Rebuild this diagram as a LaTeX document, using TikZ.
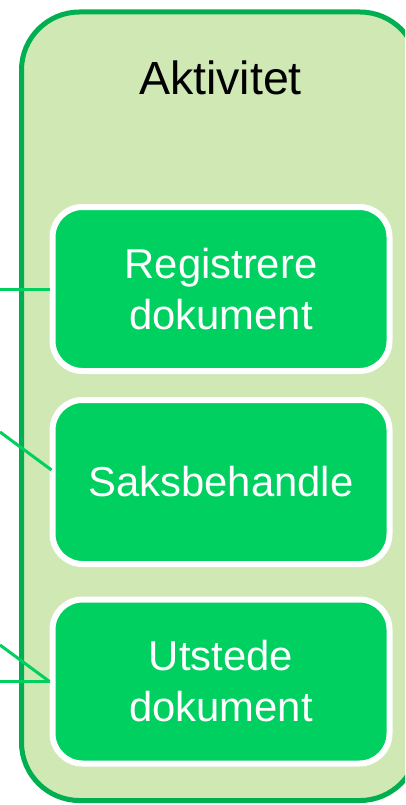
\documentclass[tikz,border=0pt]{standalone}
\usepackage{fontspec}
\setmainfont{Liberation Sans}
\definecolor{contfill}{RGB}{208,232,180}
\definecolor{contline}{RGB}{0,176,80}
\definecolor{boxfill}{RGB}{0,208,96}
\tikzset{
  container/.style={draw=contline, line width=5pt, fill=contfill, rounded corners=58pt,
    minimum width=396.5pt, minimum height=788.5pt, inner sep=0pt},
  actbox/.style={draw=white, line width=6pt, fill=boxfill, rounded corners=30pt,
    minimum width=337pt, minimum height=164pt, inner sep=0pt, align=center,
    text=white, font=\fontsize{41.8}{51}\selectfont},
  title/.style={font=\fontsize{46.5}{55}\selectfont, text=black, inner sep=0pt},
  link/.style={draw=boxfill, line width=3pt}
}
\begin{document}
\begin{tikzpicture}[x=1pt,y=-1pt]
\clip (0,0) rectangle (405,805);
\useasboundingbox (0,0) rectangle (405,805);
\node[container] (cont) at (219.75,406.25) {};
\node[title, anchor=base] (ttl) at (220.5,95) {Aktivitet};
\node[actbox] (b1) at (221,289) {Registrere\\dokument};
\node[actbox] (b2) at (221,482) {Saksbehandle};
\node[actbox] (b3) at (221,681.5) {Utstede\\dokument};
\coordinate (l1) at (0,289);
\coordinate (l2) at (0,432);
\coordinate (l3) at (0,645);
\coordinate (l4) at (0,681.5);
\draw[link] (l1) -- (b1.west);
\draw[link] (l2) -- ([yshift=12pt,xshift=2pt]b2.west);
\draw[link] (l3) -- (b3.west);
\draw[link] (l4) -- (b3.west);
\end{tikzpicture}
\end{document}
